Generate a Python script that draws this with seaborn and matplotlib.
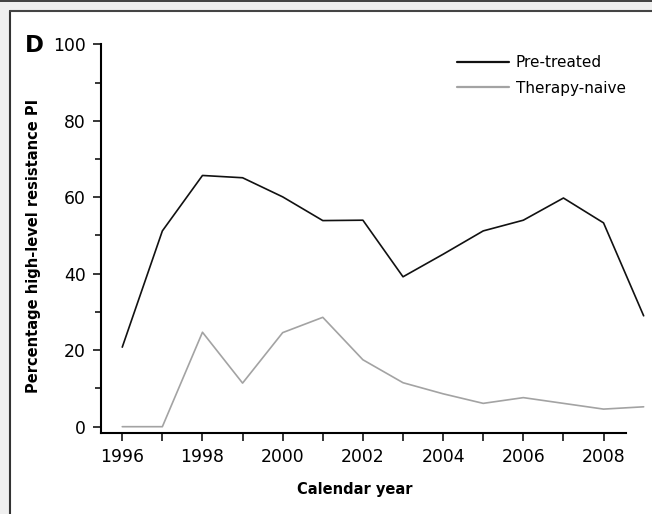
import matplotlib
matplotlib.use("Agg")
import matplotlib.pyplot as plt
from matplotlib.patches import Rectangle
from matplotlib.lines import Line2D
import seaborn as sns
import pandas as pd

years = [1996, 1997, 1998, 1999, 2000, 2001, 2002, 2003, 2004, 2005, 2006, 2007, 2008, 2009]
pre_treated = [20.8, 51.2, 65.7, 65.1, 60.1, 53.9, 54.0, 39.2, 45.1, 51.2, 54.0, 59.8, 53.3, 29.0]
therapy_naive = [0.0, 0.0, 24.7, 11.4, 24.6, 28.6, 17.5, 11.5, 8.6, 6.1, 7.6, 6.1, 4.6, 5.2]
series_names = ["Pre-treated", "Therapy-naive"]
series_colors = ["#111111", "#a3a3a3"]

df = pd.concat([
    pd.DataFrame({"year": years, "pct": pre_treated, "group": series_names[0]}),
    pd.DataFrame({"year": years, "pct": therapy_naive, "group": series_names[1]}),
])

sns.set_theme(style="ticks")
plt.rcParams["font.family"] = ["DejaVu Sans"]
plt.rcParams["text.color"] = "black"

W, H = 652, 514
fig = plt.figure(figsize=(W / 100, H / 100), dpi=100)
fig.patch.set_facecolor("#efefef")

# white panel with dark border on its left and top edges
fig.add_artist(Rectangle((10.5 / W, 0), 1, 1 - 10.5 / H, transform=fig.transFigure,
                         facecolor="white", edgecolor="none", zorder=-5))
fig.add_artist(Line2D([10 / W, 10 / W], [0, 1 - 10.5 / H], transform=fig.transFigure,
                      color="#333333", lw=1.5, zorder=-4))
fig.add_artist(Line2D([10 / W, 1], [1 - 10.8 / H, 1 - 10.8 / H], transform=fig.transFigure,
                      color="#444444", lw=1.5, zorder=-4))
fig.add_artist(Line2D([0, 1], [1 - 0.5 / H, 1 - 0.5 / H], transform=fig.transFigure,
                      color="#222222", lw=1.2, zorder=-4))

left, right, bottom, top = 101 / W, 626 / W, 1 - 433 / H, 1 - 44.3 / H
ax = fig.add_axes([left, bottom, right - left, top - bottom])
ax.set_zorder(1)
ax.set_facecolor("none")

sns.lineplot(data=df, x="year", y="pct", hue="group", palette=series_colors,
             linewidth=1.2, ax=ax, legend=False)
for ln in ax.lines:
    ln.set_clip_on(False)

ax.set_xlim(1995.47, 2008.56)
ax.set_ylim(-1.65, 100)
sns.despine(ax=ax)
for side in ("left", "bottom"):
    ax.spines[side].set_linewidth(1.5)
    ax.spines[side].set_color("black")

ax.set_xticks(years[:-1])
ax.set_xticklabels([str(y) if y % 2 == 0 else "" for y in years[:-1]])
ax.set_yticks([0, 20, 40, 60, 80, 100])
ax.set_yticks([10, 30, 50, 70, 90], minor=True)
ax.tick_params(axis="both", which="major", direction="out", length=5.8, width=1.1,
               color="black", labelsize=12.4, labelcolor="black", pad=5)
ax.tick_params(axis="y", which="minor", direction="out", length=4.3, width=1.1, color="black")
ax.tick_params(axis="x", which="minor", length=0)

ax.set_xlabel("Calendar year", fontsize=10.5, fontweight="bold", color="black")
ax.xaxis.set_label_coords(0.483, -0.125)
ax.set_ylabel("Percentage high-level resistance PI", fontsize=10.5, fontweight="bold", color="black")
ax.yaxis.set_label_coords(-0.114, 0.481)

handles = [Line2D([], [], color=c, lw=1.6) for c in series_colors]
ax.legend(handles, series_names, loc="upper left", bbox_to_anchor=(0.679, 0.972),
          frameon=False, fontsize=11, handlelength=3.4, handletextpad=0.4,
          borderpad=0, borderaxespad=0, labelspacing=0.68, labelcolor="black")

fig.text(25 / W, 1 - 52 / H, "D", fontsize=16.5, fontweight="bold", color="black",
         ha="left", va="baseline")

fig.savefig("out.png", dpi=100, facecolor=fig.get_facecolor())
